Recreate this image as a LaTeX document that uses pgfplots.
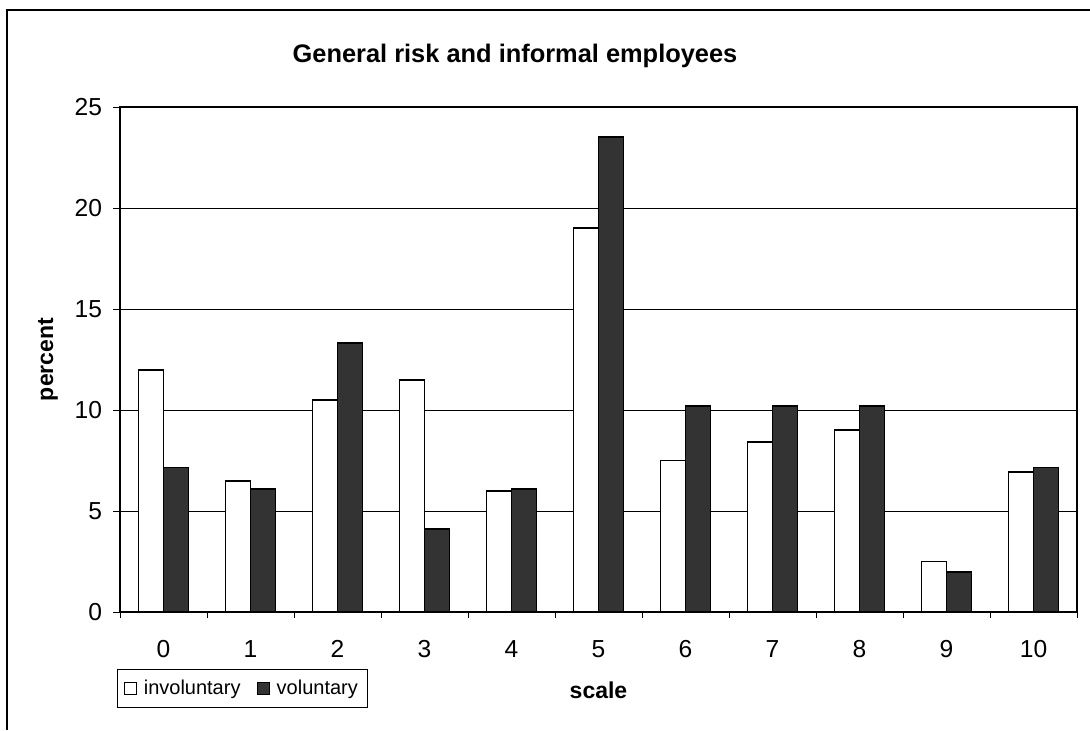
\documentclass[border=0pt]{standalone}
\usepackage{pgfplots}
\pgfplotsset{compat=1.18}
\usepackage{fontspec}
\setmainfont{Liberation Sans}
\definecolor{darkbar}{HTML}{333333}
\begin{document}
\begin{tikzpicture}
\path[use as bounding box] (0,0) rectangle (545pt,365pt);
\draw[line width=0.6pt] (3.5pt,0pt) -- (3.5pt,360pt) -- (545pt,360pt);
\node[anchor=base, font=\fontsize{12.7pt}{14pt}\selectfont\bfseries] at (257.5pt,334pt) {General risk and informal employees};
\begin{axis}[
  at={(60pt,59pt)}, anchor=south west,
  scale only axis,
  width=478.5pt, height=252.5pt,
  xmin=-0.5, xmax=10.5, ymin=0, ymax=25,
  ybar=0pt, bar width=12.5pt,
  xtick={0,...,10},
  minor xtick={-0.5,0.5,...,10.5},
  ytick={0,5,...,25},
  tick align=outside,
  tick pos=left,
  major x tick style={draw=none},
  minor x tick style={black, line width=0.5pt},
  major tick length=3.5pt,
  minor tick length=3pt,
  ytick style={black, line width=0.5pt},
  ymajorgrids,
  grid style={black, line width=0.5pt},
  axis line style={black, line width=0.6pt},
  tick label style={font=\fontsize{12.3pt}{14pt}\selectfont},
  /pgf/number format/assume math mode=true,
  xticklabel style={anchor=center, yshift=-15pt},
  yticklabel style={anchor=east, xshift=-2pt},
  xlabel={scale},
  ylabel={percent},
  every axis x label/.style={at={(axis description cs:0.5,-0.1545)}, anchor=center,
    font=\fontsize{11.5pt}{13pt}\selectfont\bfseries},
  every axis y label/.style={at={(axis description cs:-0.0752,0.5)}, anchor=center, rotate=90,
    font=\fontsize{11.5pt}{13pt}\selectfont\bfseries},
  legend columns=2,
  legend style={at={(axis description cs:-0.003,-0.19)}, anchor=south west,
    draw=black, line width=0.5pt, font=\fontsize{10pt}{11pt}\selectfont,
    inner xsep=3pt, inner ysep=3pt,
    /tikz/every odd column/.append style={column sep=1.5pt},
    /tikz/every even column/.append style={column sep=6pt}},
  legend image code/.code={\draw[#1, line width=0.6pt] (0pt,-3pt) rectangle (6pt,3pt);},
]
\addplot[draw=black, fill=white, line width=0.9pt] coordinates {
(0,12.0) (1,6.5) (2,10.5) (3,11.5) (4,6.0) (5,19.0) (6,7.5) (7,8.4) (8,9.0) (9,2.5) (10,6.95)};
\addplot[draw=black, fill=darkbar, line width=0.9pt] coordinates {
(0,7.15) (1,6.1) (2,13.3) (3,4.1) (4,6.1) (5,23.5) (6,10.2) (7,10.2) (8,10.2) (9,2.0) (10,7.15)};
\legend{involuntary, voluntary}
\end{axis}
\end{tikzpicture}
\end{document}
